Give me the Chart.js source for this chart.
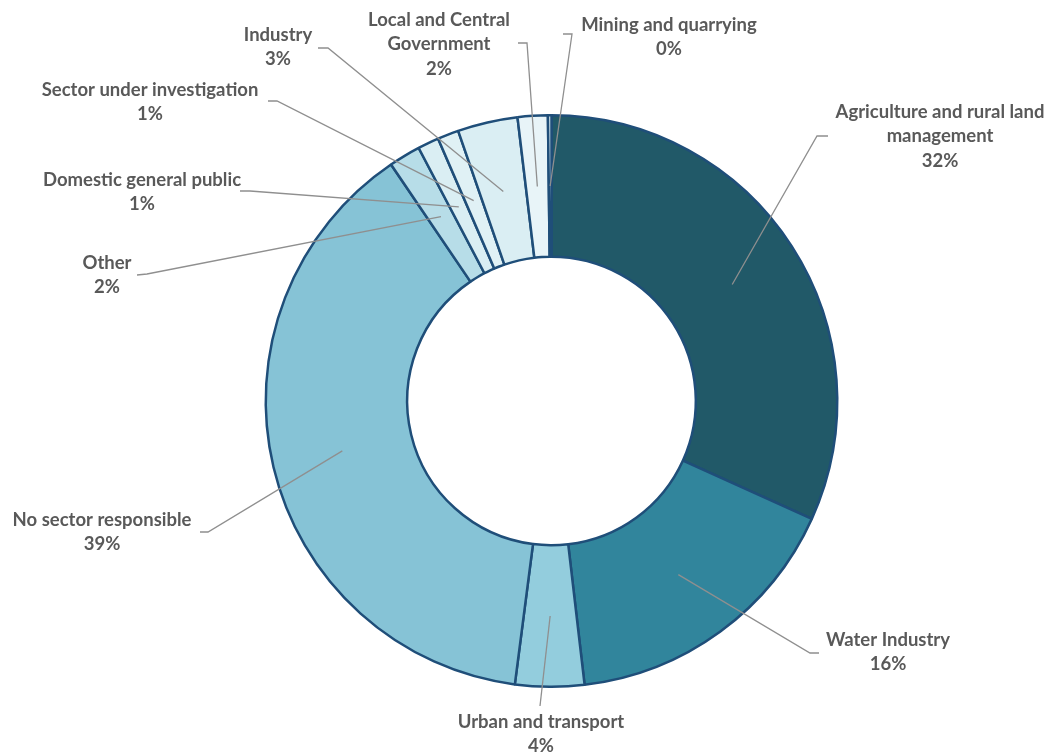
<!DOCTYPE html>
<html>
<head>
<meta charset="utf-8">
<script src="https://cdn.jsdelivr.net/npm/chart.js@4"></script>
<style>
  html, body { margin: 0; padding: 0; background: #fff; }
  #wrap { width: 1052px; height: 754px; }
</style>
</head>
<body>
<div id="wrap"><canvas id="sectorChart" width="1052" height="754"></canvas></div>
<script>
// clockwise from 12 o'clock
const categories = [
    'Agriculture and rural land\nmanagement',
    'Water Industry',
    'Urban and transport',
    'No sector responsible',
    'Other',
    'Domestic general public',
    'Sector under investigation',
    'Industry',
    'Local and Central\nGovernment',
    'Mining and quarrying'
];
const shares = [31.8, 16.4, 3.9, 38.5, 1.8, 1.2, 1.2, 3.4, 1.7, 0.2];
const sliceColors = [
    '#215968', '#31859C', '#93CDDD', '#86C3D6', '#B7DDE8',
    '#DAEEF3', '#E0F1F5', '#DAEEF3', '#E8F4F8', '#DAEEF3'
];

// where each label sits and how its leader line bends
const labelLayout = [
    { x: 940, y: 112, path: [[817, 136], [828, 136]] },
    { x: 888, y: 640, path: [[810, 653], [819, 653]] },
    { x: 541, y: 722, path: [[540, 706]] },
    { x: 102, y: 520, path: [[208, 532], [200, 532]] },
    { x: 107, y: 263, path: [[147, 274], [137, 275]] },
    { x: 142, y: 180, path: [[250, 191], [240, 191]] },
    { x: 150, y: 90, path: [[277, 101], [268, 101]] },
    { x: 278, y: 35, path: [[328, 48], [318, 48]] },
    { x: 439, y: 20, path: [[527, 43], [518, 43]] },
    { x: 669, y: 25, path: [[572, 34], [563, 34]] }
];

const leaderLabels = {
    id: 'leaderLabels',
    afterDatasetsDraw(chart) {
        const ctx = chart.ctx;
        const arcs = chart.getDatasetMeta(0).data;
        ctx.save();
        arcs.forEach((arc, i) => {
            const lay = labelLayout[i];
            const p = arc.getCenterPoint();
            ctx.strokeStyle = '#8F8F8F';
            ctx.lineWidth = 1.3;
            ctx.beginPath();
            ctx.moveTo(p.x, p.y);
            lay.path.forEach(q => ctx.lineTo(q[0], q[1]));
            ctx.stroke();

            const lines = chart.data.labels[i].split('\n');
            lines.push(Math.round(shares[i]) + '%');
            ctx.fillStyle = '#595959';
            ctx.font = 'bold 18.5px Lato, "Open Sans", sans-serif';
            ctx.textAlign = 'center';
            ctx.textBaseline = 'middle';
            lines.forEach((t, k) => ctx.fillText(t, lay.x, lay.y + k * 24.5));
        });
        ctx.restore();
    }
};

new Chart(document.getElementById('sectorChart').getContext('2d'), {
    type: 'doughnut',
    data: {
        labels: categories,
        datasets: [{
            data: shares,
            backgroundColor: sliceColors,
            borderColor: '#1F4E79',
            borderWidth: 2.5
        }]
    },
    options: {
        responsive: false,
        animation: false,
        cutout: '50.5%',
        layout: { padding: { left: 51, right: 0, top: 114, bottom: 66 } },
        plugins: {
            legend: { display: false },
            tooltip: { enabled: false }
        }
    },
    plugins: [leaderLabels]
});
</script>
</body>
</html>
